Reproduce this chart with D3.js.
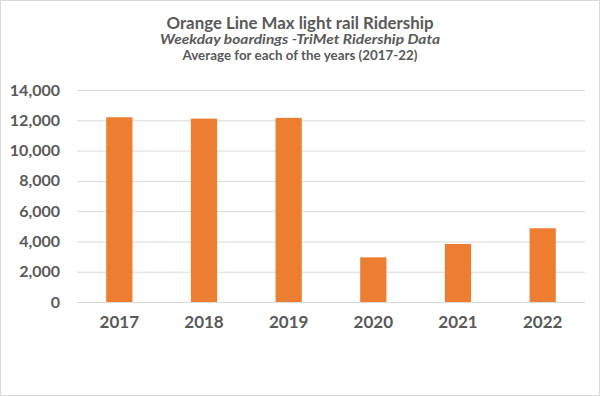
<!DOCTYPE html>
<html>
<head>
<meta charset="utf-8">
<script src="https://cdn.jsdelivr.net/npm/d3@7"></script>
<style>
  body { margin: 0; background: #fff; }
  svg { display: block; }
  svg text { font-family: Lato, "Open Sans", sans-serif; }
</style>
</head>
<body>
<svg id="chart" width="600" height="396"></svg>
<script>
// data
const years = ["2017", "2018", "2019", "2020", "2021", "2022"];
const boardings = [12200, 12110, 12160, 2950, 3830, 4870];
const yTicks = [0, 2000, 4000, 6000, 8000, 10000, 12000, 14000];
const titles = [
  "Orange Line Max light rail Ridership",
  "Weekday boardings -TriMet Ridership Data",
  "Average for each of the years (2017-22)"
];

const svg = d3.select("#chart");
const W = 600, H = 396;
const margin = {top: 90, right: 15, bottom: 94, left: 77};
const textColor = "#595959";

// outer chart border
svg.append("rect")
  .attr("x", 0.5).attr("y", 0.5)
  .attr("width", W - 1).attr("height", H - 1)
  .attr("fill", "#fff").attr("stroke", "#d9d9d9");

const x = d3.scaleBand()
  .domain(years)
  .range([margin.left, W - margin.right])
  .paddingInner(0.69)
  .paddingOuter(0.345);

const y = d3.scaleLinear()
  .domain([0, 14000])
  .range([H - margin.bottom, margin.top]);

// gridlines + y labels
const yAxis = d3.axisLeft(y)
  .tickValues(yTicks)
  .tickSize(-(W - margin.right - margin.left))
  .tickPadding(17)
  .tickFormat(d3.format(","));

const gy = svg.append("g")
  .attr("transform", `translate(${margin.left},0)`)
  .call(yAxis)
  .attr("font-family", null)
  .attr("font-size", null);
gy.select(".domain").remove();
gy.selectAll(".tick line").attr("stroke", "#d9d9d9").attr("stroke-width", 1);
gy.selectAll(".tick text")
  .attr("fill", textColor)
  .style("font-size", "16px")
  .style("font-weight", "bold");

// bars
svg.append("g")
  .selectAll("rect")
  .data(years)
  .join("rect")
  .attr("x", d => x(d))
  .attr("width", x.bandwidth())
  .attr("y", (d, i) => y(boardings[i]))
  .attr("height", (d, i) => y(0) - y(boardings[i]))
  .attr("fill", "#ED7D31");

// x axis labels
const gx = svg.append("g")
  .attr("transform", `translate(0,${H - margin.bottom})`)
  .call(d3.axisBottom(x).tickSize(0).tickPadding(14))
  .attr("font-family", null)
  .attr("font-size", null);
gx.select(".domain").remove();
gx.selectAll(".tick text")
  .attr("fill", textColor)
  .style("font-size", "17px")
  .style("font-weight", "bold");

// titles
const cx = 300;
svg.append("text")
  .attr("x", cx).attr("y", 29)
  .attr("text-anchor", "middle")
  .attr("fill", textColor)
  .attr("textLength", 267)
  .attr("lengthAdjust", "spacingAndGlyphs")
  .style("font-size", "17px")
  .style("font-weight", "bold")
  .text(titles[0]);

svg.append("text")
  .attr("x", cx).attr("y", 43.5)
  .attr("text-anchor", "middle")
  .attr("fill", textColor)
  .attr("textLength", 280)
  .attr("lengthAdjust", "spacingAndGlyphs")
  .style("font-size", "14px")
  .style("font-weight", "bold")
  .style("font-style", "italic")
  .text(titles[1]);

svg.append("text")
  .attr("x", cx).attr("y", 60)
  .attr("text-anchor", "middle")
  .attr("fill", textColor)
  .attr("textLength", 235)
  .attr("lengthAdjust", "spacingAndGlyphs")
  .style("font-size", "14px")
  .style("font-weight", "bold")
  .text(titles[2]);
</script>
</body>
</html>
